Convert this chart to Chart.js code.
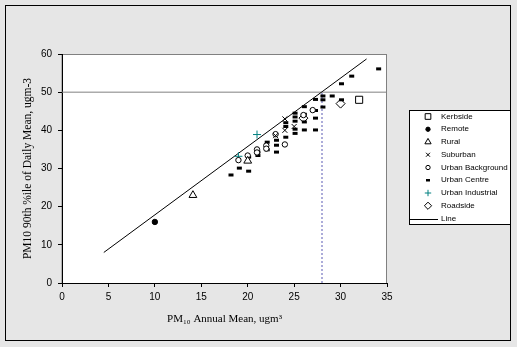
<!DOCTYPE html>
<html>
<head>
<meta charset="utf-8">
<script src="https://cdn.jsdelivr.net/npm/chart.js@4.4.1/dist/chart.umd.min.js"></script>
<style>
  html, body { margin: 0; padding: 0; background: #e6e6e6; }
  canvas { display: block; }
</style>
</head>
<body>
<canvas id="pmChart" width="517" height="347"></canvas>
<script>
// site types, [annual mean, 90th percentile of daily mean]
const kerbside = [[32, 48]];
const remote = [[10, 16]];
const rural = [[14.1, 23], [20, 32]];
const suburban = [[23, 38.6], [24, 43], [24, 40], [25, 41]];
const urbanBackground = [[19, 32.2], [20, 33.4], [21, 35], [21, 34.2], [22, 36], [22, 35.2],
  [23, 39], [24, 36.3], [26, 44], [27, 45.3]];
const urbanCentre = [[18.2, 28.3], [19.1, 30.1], [20.1, 29.3], [20.1, 33], [21.1, 34.3], [21.1, 33.4],
  [22.1, 36.9], [22.1, 34.9], [23.1, 37.4], [23.1, 36.1], [23.1, 34.3], [24.1, 42], [24.1, 41],
  [24.1, 38.2], [25.1, 44.5], [25.1, 43.5], [25.1, 42.4], [25.1, 40.3], [25.1, 39.2], [26.1, 46.2],
  [26.1, 44.2], [26.1, 42.2], [26.1, 40.1], [27.3, 48.1], [27.3, 45.2], [27.3, 43.2], [27.3, 40.1],
  [28.1, 49], [28.1, 48], [28.1, 46.1], [29.1, 49], [30.1, 52.2], [30.1, 48], [31.2, 54.2], [34.1, 56.1]];
const urbanIndustrial = [[19, 33.2], [21, 38.9]];
const roadside = [[30, 47], [26, 43.2]];
const fitLine = [[4.5, 8], [32.8, 58.7]];
const limitLine = [[0, 50], [35, 50]];
const limitDrop = [[28, 0], [28, 50]];

const xTicks = [0, 5, 10, 15, 20, 25, 30, 35];
const yTicks = [0, 10, 20, 30, 40, 50, 60];

const pts = arr => arr.map(([x, y]) => ({ x, y }));

const series = [
  { label: 'Kerbside', data: kerbside, pointStyle: 'rect', pointRadius: 5, backgroundColor: '#fff', borderColor: '#000' },
  { label: 'Remote', data: remote, pointStyle: 'circle', pointRadius: 2.7, backgroundColor: '#000', borderColor: '#000' },
  { label: 'Rural', data: rural, pointStyle: 'triangle', pointRadius: 4.5, backgroundColor: '#fff', borderColor: '#000' },
  { label: 'Suburban', data: suburban, pointStyle: 'crossRot', pointRadius: 3.5, backgroundColor: '#000', borderColor: '#000' },
  { label: 'Urban Background', data: urbanBackground, pointStyle: 'circle', pointRadius: 2.7, backgroundColor: '#fff', borderColor: '#000' },
  { label: 'Urban Centre', data: urbanCentre, pointStyle: 'line', pointRadius: 2.5, borderWidth: 3, backgroundColor: '#000', borderColor: '#000' },
  { label: 'Urban Industrial', data: urbanIndustrial, pointStyle: 'cross', pointRadius: 4, backgroundColor: '#008080', borderColor: '#008080' },
  { label: 'Roadside', data: roadside, pointStyle: 'rectRot', pointRadius: 4.5, backgroundColor: '#fff', borderColor: '#000' }
];

const datasets = series.map(s => ({
  label: s.label,
  data: pts(s.data),
  pointStyle: s.pointStyle,
  pointRadius: s.pointRadius,
  pointHoverRadius: s.pointRadius,
  pointBackgroundColor: s.backgroundColor,
  pointBorderColor: s.borderColor,
  pointBorderWidth: s.borderWidth || 1,
  showLine: false
}));

datasets.push({
  label: 'Line', data: pts(fitLine), showLine: true, pointRadius: 0,
  borderColor: '#000', borderWidth: 1
});
datasets.push({
  label: 'limit', data: pts(limitLine), showLine: true, pointRadius: 0,
  borderColor: '#808080', borderWidth: 1
});
datasets.push({
  label: 'limitDrop', data: pts(limitDrop), showLine: true, pointRadius: 0,
  borderColor: '#5a5ab4', borderWidth: 1, borderDash: [2, 2]
});

// grey page, black frame, white plot area with grey edge
const framePlugin = {
  id: 'frame',
  beforeDraw(chart) {
    const { ctx, chartArea: a } = chart;
    ctx.save();
    ctx.fillStyle = '#e6e6e6';
    ctx.fillRect(0, 0, chart.width, chart.height);
    ctx.strokeStyle = '#000';
    ctx.lineWidth = 1;
    ctx.strokeRect(5.5, 5.5, 505, 335);
    ctx.fillStyle = '#fff';
    ctx.fillRect(a.left, a.top, a.right - a.left, a.bottom - a.top);
    ctx.strokeStyle = '#808080';
    ctx.strokeRect(a.left, a.top + 0.5, a.right - a.left - 0.5, a.bottom - a.top);
    ctx.restore();
  }
};

// boxed legend on the right
const legendPlugin = {
  id: 'boxLegend',
  afterDraw(chart) {
    const { ctx } = chart;
    const bx = 409.5, by = 110.5, bw = 101, bh = 114;
    ctx.save();
    ctx.fillStyle = '#fff';
    ctx.fillRect(bx, by, bw, bh);
    ctx.strokeStyle = '#000';
    ctx.lineWidth = 1;
    ctx.strokeRect(bx, by, bw, bh);
    ctx.font = '8px "Liberation Sans", Arial, sans-serif';
    ctx.textBaseline = 'middle';
    const items = series.concat([{ label: 'Line' }]);
    items.forEach((s, i) => {
      const y = 116.5 + i * 12.75;
      if (s.label === 'Line') {
        ctx.strokeStyle = '#000';
        ctx.lineWidth = 1;
        ctx.beginPath();
        ctx.moveTo(410, Math.round(y) + 0.5);
        ctx.lineTo(438, Math.round(y) + 0.5);
        ctx.stroke();
      } else {
        ctx.fillStyle = s.backgroundColor;
        ctx.strokeStyle = s.borderColor;
        ctx.lineWidth = s.pointStyle === 'line' ? 2.5 : 1;
        Chart.helpers.drawPoint(ctx, {
          pointStyle: s.pointStyle, radius: s.pointRadius * 0.8, rotation: 0, borderWidth: 1
        }, 428, y);
      }
      ctx.fillStyle = '#000';
      ctx.fillText(s.label, 441, y);
    });
    ctx.restore();
  }
};

new Chart(document.getElementById('pmChart'), {
  type: 'scatter',
  data: { datasets },
  options: {
    responsive: false,
    animation: false,
    layout: { padding: { left: 10, top: 54, right: 130, bottom: 17 } },
    plugins: { legend: { display: false }, tooltip: { enabled: false } },
    scales: {
      x: {
        type: 'linear', min: 0, max: 35,
        afterFit: s => { s.height = 47; },
        afterBuildTicks: s => { s.ticks = xTicks.map(v => ({ value: v })); },
        ticks: { color: '#000', padding: 4, font: { family: '"Liberation Sans", Arial, sans-serif', size: 10 } },
        grid: { display: true, drawOnChartArea: false, drawTicks: true, tickLength: 4, color: '#000' },
        border: { color: '#000', width: 1 },
        title: {
          display: true, text: 'PM₁₀ Annual Mean, ugm³', color: '#000',
          padding: { top: 0, bottom: 4 },
          font: { family: '"Liberation Serif", "Times New Roman", serif', size: 11 }
        }
      },
      y: {
        type: 'linear', min: 0, max: 60,
        afterFit: s => { s.width = 52; },
        afterBuildTicks: s => { s.ticks = yTicks.map(v => ({ value: v })); },
        ticks: { color: '#000', padding: 6, font: { family: '"Liberation Sans", Arial, sans-serif', size: 10 } },
        grid: { display: true, drawOnChartArea: false, drawTicks: true, tickLength: 4, color: '#000' },
        border: { color: '#000', width: 1 },
        title: {
          display: true, text: 'PM10 90th %ile of Daily Mean, ugm-3', color: '#000',
          padding: { top: 11, bottom: 0 },
          font: { family: '"Liberation Serif", "Times New Roman", serif', size: 11.5 }
        }
      }
    }
  },
  plugins: [framePlugin, legendPlugin]
});
</script>
</body>
</html>
